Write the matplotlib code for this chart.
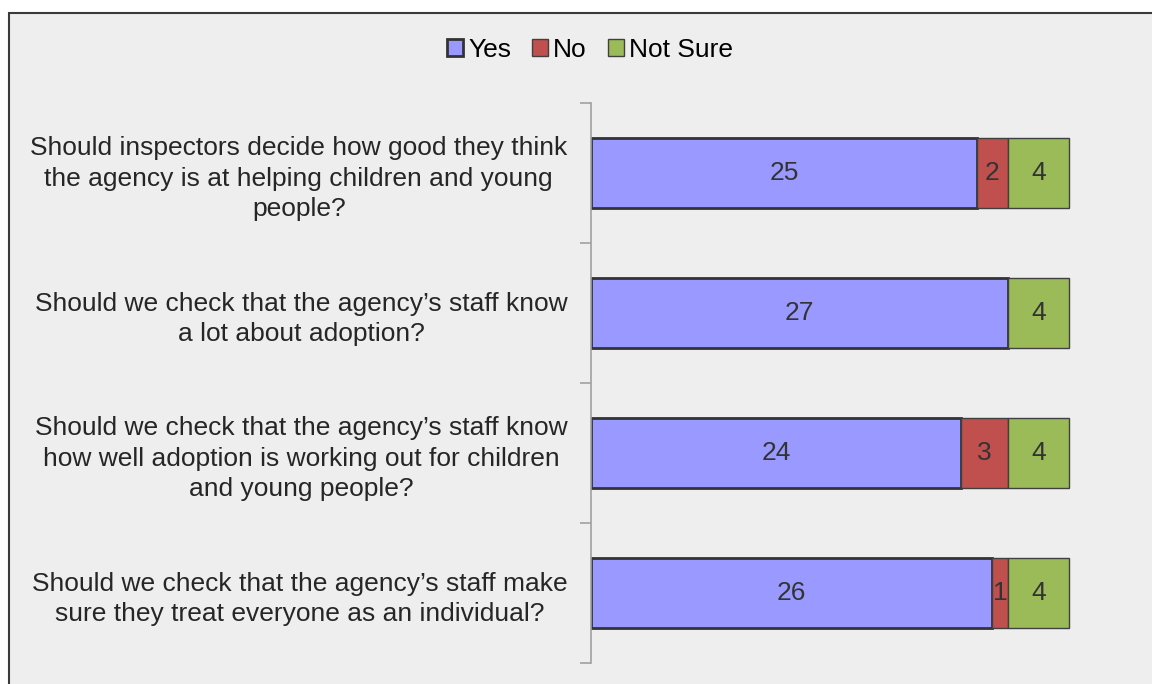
import matplotlib.pyplot as plt
from matplotlib.patches import Rectangle
import numpy as np

plt.rcParams['font.family'] = ['Liberation Sans', 'DejaVu Sans']

questions = [
    'Should inspectors decide how good they think\nthe agency is at helping children and young\npeople?',
    'Should we check that the agency\u2019s staff know\na lot about adoption?',
    'Should we check that the agency\u2019s staff know\nhow well adoption is working out for children\nand young people?',
    'Should we check that the agency\u2019s staff make\nsure they treat everyone as an individual?',
]
yes = [25, 27, 24, 26]
no = [2, 0, 3, 1]
not_sure = [4, 4, 4, 4]

series = [('Yes', yes, '#9999FF', '#333333', 2.0),
          ('No', no, '#C0504D', '#404040', 1.0),
          ('Not Sure', not_sure, '#9BBB59', '#404040', 1.0)]

fs = 19

fig = plt.figure(figsize=(11.52, 6.84), dpi=100, facecolor='white')
# chart area box
fig.patches.append(Rectangle((9 / 1152, -0.01), 1.0, (684 - 13) / 684 + 0.01,
                             transform=fig.transFigure, facecolor='#EEEEEE',
                             edgecolor='#3A3A3A', linewidth=1.5, zorder=-5))

ax = fig.add_axes([591 / 1152, 21 / 684, 540 / 1152, 560 / 684])
ax.set_zorder(2)
ax.set_facecolor('none')

y = np.arange(len(questions))
left = np.zeros(len(questions))
for name, vals, col, ec, lw in series:
    vals = np.array(vals, dtype=float)
    bars = ax.barh(y, vals, left=left, height=0.5, color=col, edgecolor=ec,
                   linewidth=lw, label=name)
    for b, v in zip(bars, vals):
        if v > 0:
            ax.text(b.get_x() + b.get_width() / 2, b.get_y() + b.get_height() / 2,
                    '%d' % v, ha='center', va='center', fontsize=fs, color='#333333')
    left += vals

ax.set_xlim(0, 35)
ax.set_ylim(len(questions) - 0.5, -0.5)
ax.set_yticks(y)
ax.set_yticklabels(questions, fontsize=fs, color='#262626', ha='right',
                   multialignment='center', linespacing=1.32)
ax.tick_params(axis='y', which='major', length=0, pad=17)
ax.set_yticks(np.arange(-0.5, len(questions), 1.0), minor=True)
ax.tick_params(axis='y', which='minor', length=8, color='#A0A0A0', width=1.2)
ax.set_xticks([])
for s in ['top', 'right', 'bottom']:
    ax.spines[s].set_visible(False)
ax.spines['left'].set_color('#A0A0A0')
ax.spines['left'].set_linewidth(1.2)

leg = fig.legend(loc='center', bbox_to_anchor=(590 / 1152, 1 - 50 / 684), ncol=3,
                 frameon=False, fontsize=fs, handlelength=0.6, handleheight=0.6,
                 handletextpad=0.2, columnspacing=0.8)
leg.set_zorder(3)

fig.savefig('out.png', dpi=100, facecolor=fig.get_facecolor())
